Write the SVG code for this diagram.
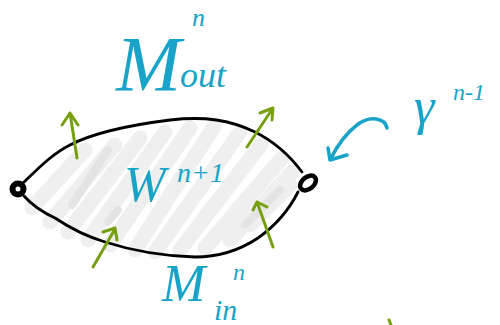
<svg xmlns="http://www.w3.org/2000/svg" width="500" height="325" viewBox="0 0 500 325">
<style>
.shade{stroke:#efefef;stroke-width:15;stroke-linecap:round;fill:none}
.shade2{stroke:#e4e4e4;stroke-width:8;stroke-linecap:round;fill:none}
.outline{fill:none;stroke:#000;stroke-width:2.8;stroke-linejoin:round;stroke-linecap:round}
.green{fill:none;stroke:#76a012;stroke-width:3;stroke-linecap:round;stroke-linejoin:round}
.blue{fill:none;stroke:#1aa3c8;stroke-width:3.5;stroke-linecap:round;stroke-linejoin:round}
.lbl{fill:#1aa3c8;font-family:"Liberation Serif",serif;font-style:italic}
</style>
<rect width="500" height="325" fill="#fff"/>
<g id="shading">
<line class="shade" x1="32" y1="208" x2="85" y2="150"/>
<line class="shade" x1="50" y1="222" x2="115" y2="145"/>
<line class="shade" x1="68" y1="232" x2="140" y2="138"/>
<line class="shade" x1="88" y1="240" x2="165" y2="132"/>
<line class="shade" x1="110" y1="245" x2="190" y2="128"/>
<line class="shade" x1="135" y1="250" x2="215" y2="125"/>
<line class="shade" x1="155" y1="252" x2="240" y2="132"/>
<line class="shade" x1="180" y1="250" x2="262" y2="143"/>
<line class="shade" x1="205" y1="248" x2="282" y2="158"/>
<line class="shade" x1="230" y1="240" x2="292" y2="172"/>
<line class="shade" x1="250" y1="225" x2="290" y2="185"/>
<line class="shade2" x1="72" y1="205" x2="108" y2="150"/>
<line class="shade2" x1="108" y1="222" x2="118" y2="210"/>
<line class="shade2" x1="245" y1="225" x2="280" y2="190"/>
</g>
<g id="region">
<path class="outline" d="M22,184 C35,172 50,155 70,145 C95,132 130,125 170,120 C205,116 230,120 255,132 C275,142 290,156 302,172"/>
<path class="outline" d="M24,196 C32,205 42,212 55,218 C70,228 85,236 105,242 C130,250 160,256 195,257 C220,257 240,250 258,238 C275,226 288,212 298,192"/>
</g>
<g id="node-left">
<circle cx="18" cy="189" r="5.5" fill="none" stroke="#000" stroke-width="6"/>
</g>
<g id="node-right">
<ellipse cx="308" cy="183" rx="9" ry="6" transform="rotate(-40 308 183)" fill="none" stroke="#000" stroke-width="4.5"/>
</g>
<g id="connectors">
<path class="green" d="M77,158 L70,113 M62,125 L70,113 L78,125"/>
<path class="green" d="M247,147 L273,108 M260,113 L273,108 L272,120"/>
<path class="green" d="M93,267 L115,229 M103,232 L115,228 L117,240"/>
<path class="green" d="M273,247 L257,202 M253,210 L257,202 L267,207"/>
<path class="green" d="M389,320 L391,325"/>
<path class="blue" d="M387,128 C385,118 370,115 357,125 C345,134 337,146 330,160 M328,148 L330,160 L347,155"/>
</g>
<g id="label-mout">
<text class="lbl" x="116" y="90" font-size="78">M</text>
<text class="lbl" x="192" y="26" font-size="26">n</text>
<text class="lbl" x="180" y="87" font-size="36">out</text>
</g>
<g id="label-w">
<text class="lbl" x="124" y="201" font-size="50">W</text>
<text class="lbl" x="177" y="182" font-size="28">n+1</text>
</g>
<g id="label-gamma">
<text class="lbl" x="414" y="124" font-size="52">γ</text>
<text class="lbl" x="453" y="100" font-size="24">n-1</text>
</g>
<g id="label-min">
<text class="lbl" x="162" y="301" font-size="52">M</text>
<text class="lbl" x="233" y="280" font-size="24">n</text>
<text class="lbl" x="214" y="320" font-size="30">in</text>
</g>
</svg>
